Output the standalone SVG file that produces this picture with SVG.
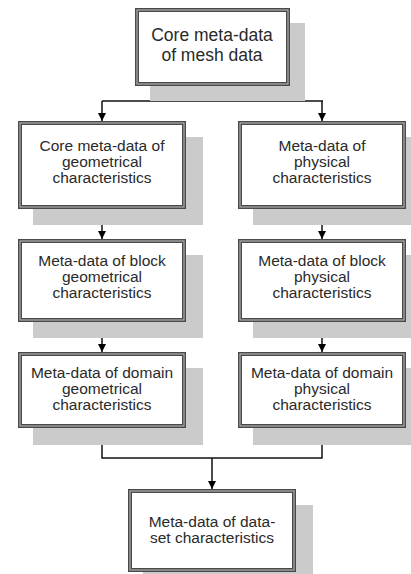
<svg xmlns="http://www.w3.org/2000/svg" width="411" height="574" viewBox="0 0 411 574">
<defs>
<style>
.sh{fill:#cbcbcb}
.bx{fill:#fff;stroke:#4a4a4a;stroke-width:4}
.bi{fill:none;stroke:#b0b0b0;stroke-width:1.2}
.t{font-family:"Liberation Sans",Arial,sans-serif;font-size:15.5px;fill:#2a2a2a;text-anchor:middle}
.tb{font-size:17.5px}
.c{fill:none;stroke:#111;stroke-width:1.5}
</style>
<marker id="ah" viewBox="0 0 10 10" refX="10" refY="5" markerWidth="8" markerHeight="8" markerUnits="userSpaceOnUse" orient="auto">
<path d="M0,0 L10,5 L0,10 Z" fill="#000"/>
</marker>
</defs>
<rect width="411" height="574" fill="#fff"/>

<g id="connectors">
<path class="c" d="M212,86 V101"/>
<path class="c" d="M102,101 H323"/>
<path class="c" d="M102,101 V121" marker-end="url(#ah)"/>
<path class="c" d="M322,101 V121" marker-end="url(#ah)"/>
<path class="c" d="M102,209 V239" marker-end="url(#ah)"/>
<path class="c" d="M322,209 V239" marker-end="url(#ah)"/>
<path class="c" d="M102,322 V352" marker-end="url(#ah)"/>
<path class="c" d="M322,322 V352" marker-end="url(#ah)"/>
<path class="c" d="M102,428 V458 H322 V428"/>
<path class="c" d="M212,458 V489" marker-end="url(#ah)"/>
</g>

<g id="core">
<rect class="sh" x="150" y="23" width="155" height="78"/>
<rect class="bx" x="137" y="10" width="151" height="74"/>
<rect class="bi" x="137" y="10" width="151" height="74"/>
<text class="t tb" x="212" y="41">Core meta-data</text>
<text class="t tb" x="212" y="61">of mesh data</text>
</g>

<g id="geo1">
<rect class="sh" x="33" y="137" width="170" height="88"/>
<rect class="bx" x="20" y="123" width="164" height="84"/>
<rect class="bi" x="20" y="123" width="164" height="84"/>
<text class="t" x="102" y="151">Core meta-data of</text>
<text class="t" x="102" y="167">geometrical</text>
<text class="t" x="102" y="183">characteristics</text>
</g>

<g id="phys1">
<rect class="sh" x="253" y="137" width="170" height="88"/>
<rect class="bx" x="240" y="123" width="164" height="84"/>
<rect class="bi" x="240" y="123" width="164" height="84"/>
<text class="t" x="322" y="151">Meta-data of</text>
<text class="t" x="322" y="167">physical</text>
<text class="t" x="322" y="183">characteristics</text>
</g>

<g id="geo2">
<rect class="sh" x="33" y="255" width="170" height="83"/>
<rect class="bx" x="20" y="241" width="164" height="79"/>
<rect class="bi" x="20" y="241" width="164" height="79"/>
<text class="t" x="102" y="266">Meta-data of block</text>
<text class="t" x="102" y="282">geometrical</text>
<text class="t" x="102" y="298">characteristics</text>
</g>

<g id="phys2">
<rect class="sh" x="253" y="255" width="170" height="83"/>
<rect class="bx" x="240" y="241" width="164" height="79"/>
<rect class="bi" x="240" y="241" width="164" height="79"/>
<text class="t" x="322" y="266">Meta-data of block</text>
<text class="t" x="322" y="282">physical</text>
<text class="t" x="322" y="298">characteristics</text>
</g>

<g id="geo3">
<rect class="sh" x="33" y="368" width="170" height="77"/>
<rect class="bx" x="20" y="354" width="164" height="72"/>
<rect class="bi" x="20" y="354" width="164" height="72"/>
<text class="t" x="102" y="378">Meta-data of domain</text>
<text class="t" x="102" y="394">geometrical</text>
<text class="t" x="102" y="410">characteristics</text>
</g>

<g id="phys3">
<rect class="sh" x="253" y="368" width="170" height="77"/>
<rect class="bx" x="240" y="354" width="164" height="72"/>
<rect class="bi" x="240" y="354" width="164" height="72"/>
<text class="t" x="322" y="378">Meta-data of domain</text>
<text class="t" x="322" y="394">physical</text>
<text class="t" x="322" y="410">characteristics</text>
</g>

<g id="dataset">
<rect class="sh" x="143" y="505" width="170" height="90"/>
<rect class="bx" x="130" y="491" width="164" height="79"/>
<rect class="bi" x="130" y="491" width="164" height="79"/>
<text class="t" x="212" y="527">Meta-data of data-</text>
<text class="t" x="212" y="543">set characteristics</text>
</g>
</svg>
